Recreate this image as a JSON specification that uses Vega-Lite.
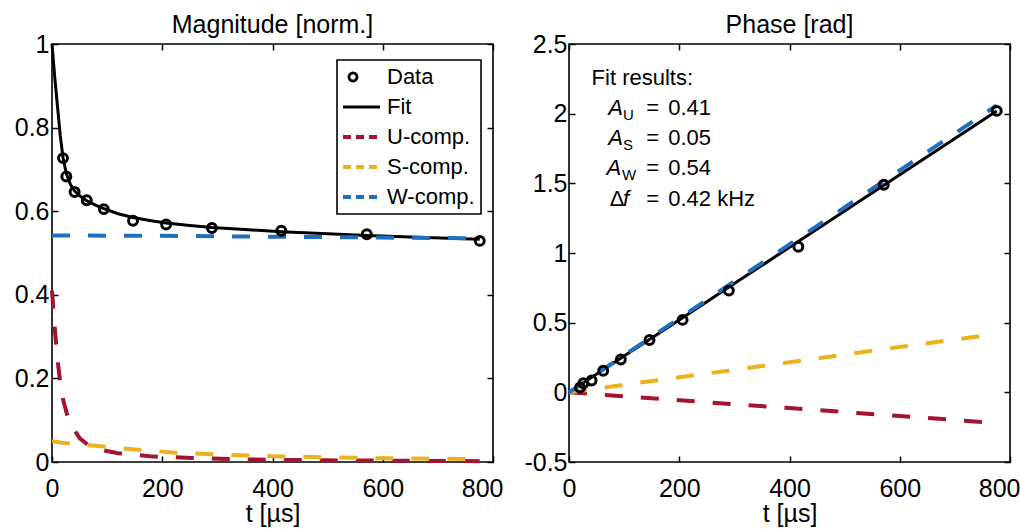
{
  "$schema": "https://vega.github.io/schema/vega-lite/v6.json",
  "padding": {"left": 13, "top": 12, "right": 0, "bottom": 2},
  "background": "white",
  "bounds": "flush",
  "spacing": 76,
  "config": {
    "font": "Liberation Sans",
    "view": {"stroke": "black", "strokeWidth": 1.6},
    "axis": {"labelFont": "Liberation Sans", "labelFontSize": 25, "labelColor": "black", "titleFont": "Liberation Sans", "titleFontSize": 25, "titleFontWeight": "normal", "titleColor": "black", "domain": false, "grid": false, "tickColor": "black", "tickWidth": 1.5},
    "title": {"font": "Liberation Sans", "fontSize": 25, "fontWeight": "normal", "color": "black", "baseline": "alphabetic", "offset": -6}
  },
  "resolve": {"legend": {"color": "independent"}},
  "datasets": {
    "mag": [
      {"series": "Fit", "t": 0, "v": 1.0}, {"series": "Fit", "t": 5, "v": 0.92}, {"series": "Fit", "t": 10, "v": 0.85}, {"series": "Fit", "t": 15, "v": 0.78}, {"series": "Fit", "t": 20, "v": 0.728}, {"series": "Fit", "t": 26, "v": 0.69}, {"series": "Fit", "t": 33, "v": 0.665}, {"series": "Fit", "t": 41, "v": 0.648}, {"series": "Fit", "t": 52, "v": 0.635}, {"series": "Fit", "t": 63, "v": 0.625}, {"series": "Fit", "t": 80, "v": 0.614}, {"series": "Fit", "t": 94, "v": 0.606}, {"series": "Fit", "t": 120, "v": 0.594}, {"series": "Fit", "t": 147, "v": 0.585}, {"series": "Fit", "t": 180, "v": 0.577}, {"series": "Fit", "t": 207, "v": 0.572}, {"series": "Fit", "t": 250, "v": 0.566}, {"series": "Fit", "t": 290, "v": 0.561}, {"series": "Fit", "t": 350, "v": 0.556}, {"series": "Fit", "t": 416, "v": 0.551}, {"series": "Fit", "t": 500, "v": 0.546}, {"series": "Fit", "t": 571, "v": 0.542}, {"series": "Fit", "t": 650, "v": 0.538}, {"series": "Fit", "t": 776, "v": 0.533},
      {"series": "U-comp.", "t": 0, "v": 0.41}, {"series": "U-comp.", "t": 5, "v": 0.32}, {"series": "U-comp.", "t": 10, "v": 0.245}, {"series": "U-comp.", "t": 15, "v": 0.19}, {"series": "U-comp.", "t": 20, "v": 0.15}, {"series": "U-comp.", "t": 27, "v": 0.115}, {"series": "U-comp.", "t": 35, "v": 0.088}, {"series": "U-comp.", "t": 50, "v": 0.057}, {"series": "U-comp.", "t": 66, "v": 0.04}, {"series": "U-comp.", "t": 85, "v": 0.03}, {"series": "U-comp.", "t": 120, "v": 0.021}, {"series": "U-comp.", "t": 178, "v": 0.0136}, {"series": "U-comp.", "t": 252, "v": 0.0096}, {"series": "U-comp.", "t": 350, "v": 0.006}, {"series": "U-comp.", "t": 500, "v": 0.004}, {"series": "U-comp.", "t": 776, "v": 0.002},
      {"series": "S-comp.", "t": 0, "v": 0.05}, {"series": "S-comp.", "t": 18, "v": 0.046}, {"series": "S-comp.", "t": 85, "v": 0.038}, {"series": "S-comp.", "t": 151, "v": 0.03}, {"series": "S-comp.", "t": 218, "v": 0.023}, {"series": "S-comp.", "t": 300, "v": 0.018}, {"series": "S-comp.", "t": 400, "v": 0.014}, {"series": "S-comp.", "t": 500, "v": 0.011}, {"series": "S-comp.", "t": 600, "v": 0.009}, {"series": "S-comp.", "t": 776, "v": 0.007},
      {"series": "W-comp.", "t": 0, "v": 0.542}, {"series": "W-comp.", "t": 200, "v": 0.541}, {"series": "W-comp.", "t": 400, "v": 0.539}, {"series": "W-comp.", "t": 600, "v": 0.537}, {"series": "W-comp.", "t": 776, "v": 0.535}
    ],
    "magPts": [
      {"series": "Data", "t": 20, "v": 0.727}, {"series": "Data", "t": 26, "v": 0.683}, {"series": "Data", "t": 41, "v": 0.646}, {"series": "Data", "t": 63, "v": 0.626}, {"series": "Data", "t": 94, "v": 0.605}, {"series": "Data", "t": 147, "v": 0.577}, {"series": "Data", "t": 207, "v": 0.568}, {"series": "Data", "t": 290, "v": 0.56}, {"series": "Data", "t": 416, "v": 0.553}, {"series": "Data", "t": 571, "v": 0.545}, {"series": "Data", "t": 776, "v": 0.529}
    ],
    "ph": [
      {"series": "Fit", "t": 0, "v": 0}, {"series": "Fit", "t": 100, "v": 0.26}, {"series": "Fit", "t": 200, "v": 0.52}, {"series": "Fit", "t": 300, "v": 0.781}, {"series": "Fit", "t": 400, "v": 1.041}, {"series": "Fit", "t": 500, "v": 1.302}, {"series": "Fit", "t": 600, "v": 1.562}, {"series": "Fit", "t": 700, "v": 1.822}, {"series": "Fit", "t": 776, "v": 2.02},
      {"series": "U-comp.", "t": 0, "v": 0}, {"series": "U-comp.", "t": 200, "v": -0.057}, {"series": "U-comp.", "t": 400, "v": -0.113}, {"series": "U-comp.", "t": 600, "v": -0.17}, {"series": "U-comp.", "t": 776, "v": -0.22},
      {"series": "S-comp.", "t": 0, "v": 0}, {"series": "S-comp.", "t": 200, "v": 0.108}, {"series": "S-comp.", "t": 400, "v": 0.216}, {"series": "S-comp.", "t": 600, "v": 0.325}, {"series": "S-comp.", "t": 776, "v": 0.42},
      {"series": "W-comp.", "t": 0, "v": 0}, {"series": "W-comp.", "t": 200, "v": 0.531}, {"series": "W-comp.", "t": 400, "v": 1.062}, {"series": "W-comp.", "t": 600, "v": 1.593}, {"series": "W-comp.", "t": 776, "v": 2.06}
    ],
    "phPts": [
      {"series": "Data", "t": 20, "v": 0.035}, {"series": "Data", "t": 26, "v": 0.065}, {"series": "Data", "t": 41, "v": 0.085}, {"series": "Data", "t": 62, "v": 0.155}, {"series": "Data", "t": 94, "v": 0.235}, {"series": "Data", "t": 146, "v": 0.375}, {"series": "Data", "t": 206, "v": 0.52}, {"series": "Data", "t": 290, "v": 0.73}, {"series": "Data", "t": 416, "v": 1.045}, {"series": "Data", "t": 571, "v": 1.49}, {"series": "Data", "t": 776, "v": 2.02}
    ]
  },
  "hconcat": [
    {
      "width": 441,
      "height": 418,
      "title": {"text": "Magnitude [norm.]"},
      "layer": [
        {
          "data": {"name": "mag"},
          "transform": [{"filter": "datum.series === 'Fit'"}],
          "mark": {"type": "line", "strokeWidth": 3},
          "encoding": {
            "x": {"field": "t", "type": "quantitative", "scale": {"domain": [0, 800], "nice": false}, "axis": {"orient": "bottom", "values": [0, 200, 400, 600, 800], "tickSize": -6, "labelPadding": 20, "title": "t [µs]", "titlePadding": 0, "labelAlign": {"condition": {"test": "datum.value === 800", "value": "right"}, "value": "center"}, "labelOffset": {"condition": {"test": "datum.value === 800", "value": 10}, "value": 0}}},
            "y": {"field": "v", "type": "quantitative", "scale": {"domain": [0, 1], "nice": false}, "axis": {"orient": "left", "values": [0, 0.2, 0.4, 0.6, 0.8, 1], "tickSize": -6, "labelPadding": 9, "title": null, "labelExpr": "'' + datum.value"}},
            "color": {
              "field": "series", "type": "nominal",
              "scale": {"domain": ["Data", "Fit", "U-comp.", "S-comp.", "W-comp."], "range": ["#000000", "#000000", "#a2142f", "#edb120", "#1f6fbf"]},
              "legend": {
                "orient": "none", "legendX": 285, "legendY": 16, "title": null,
                "strokeColor": "black", "fillColor": "white", "padding": 6,
                "labelFont": "Liberation Sans", "labelFontSize": 22, "labelColor": "black",
                "labelOffset": 22, "rowPadding": 8, "symbolSize": 1369, "symbolType": "stroke", "symbolStrokeWidth": 3,
                "encode": {
                  "legend": {"update": {"strokeWidth": {"value": 1.6}}},
                  "symbols": {"update": {
                    "shape": {"signal": "datum.value === 'Data' ? 'circle' : 'stroke'"},
                    "size": {"signal": "datum.value === 'Data' ? 64 : 1369"},
                    "strokeDash": {"signal": "(datum.value === 'Data' || datum.value === 'Fit') ? [1, 0] : [8, 5]"},
                    "strokeWidth": {"signal": "datum.value === 'Data' ? 2.8 : (datum.value === 'Fit' ? 3 : 4)"},
                    "fill": {"value": "transparent"},
                    "x": {"signal": "datum.value === 'Data' ? 10 : 18.5"}
                  }}
                }
              }
            }
          }
        },
        {
          "data": {"name": "mag"},
          "transform": [{"filter": "datum.series !== 'Fit'"}],
          "mark": {"type": "line", "strokeWidth": 4, "strokeDash": [18, 18]},
          "encoding": {
            "x": {"field": "t", "type": "quantitative", "axis": {"orient": "top", "values": [0, 200, 400, 600, 800], "tickSize": -6, "labels": false, "title": null}},
            "y": {"field": "v", "type": "quantitative", "axis": {"orient": "right", "values": [0, 0.2, 0.4, 0.6, 0.8, 1], "tickSize": -6, "labels": false, "title": null}},
            "color": {"field": "series", "type": "nominal"}
          }
        },
        {
          "data": {"name": "magPts"},
          "mark": {"type": "point", "shape": "circle", "filled": false, "size": 80, "strokeWidth": 3, "opacity": 1},
          "encoding": {
            "x": {"field": "t", "type": "quantitative", "axis": null},
            "y": {"field": "v", "type": "quantitative", "axis": null},
            "color": {"field": "series", "type": "nominal"}
          }
        }
      ]
    },
    {
      "width": 441,
      "height": 418,
      "title": {"text": "Phase [rad]"},
      "layer": [
        {
          "data": {"name": "ph"},
          "transform": [{"filter": "datum.series === 'Fit'"}],
          "mark": {"type": "line", "strokeWidth": 3},
          "encoding": {
            "x": {"field": "t", "type": "quantitative", "scale": {"domain": [0, 800], "nice": false}, "axis": {"orient": "bottom", "values": [0, 200, 400, 600, 800], "tickSize": -6, "labelPadding": 20, "title": "t [µs]", "titlePadding": 0, "labelAlign": {"condition": {"test": "datum.value === 800", "value": "right"}, "value": "center"}, "labelOffset": {"condition": {"test": "datum.value === 800", "value": 10}, "value": 0}}},
            "y": {"field": "v", "type": "quantitative", "scale": {"domain": [-0.5, 2.5], "nice": false}, "axis": {"orient": "left", "values": [-0.5, 0, 0.5, 1, 1.5, 2, 2.5], "tickSize": -6, "labelPadding": 8, "title": null, "labelExpr": "'' + datum.value"}},
            "color": {"field": "series", "type": "nominal", "legend": null}
          }
        },
        {
          "data": {"name": "ph"},
          "transform": [{"filter": "datum.series !== 'Fit'"}],
          "mark": {"type": "line", "strokeWidth": 4, "strokeDash": [18, 18]},
          "encoding": {
            "x": {"field": "t", "type": "quantitative", "axis": {"orient": "top", "values": [0, 200, 400, 600, 800], "tickSize": -6, "labels": false, "title": null}},
            "y": {"field": "v", "type": "quantitative", "axis": {"orient": "right", "values": [-0.5, 0, 0.5, 1, 1.5, 2, 2.5], "tickSize": -6, "labels": false, "title": null}},
            "color": {"field": "series", "type": "nominal", "legend": null}
          }
        },
        {
          "data": {"name": "phPts"},
          "mark": {"type": "point", "shape": "circle", "filled": false, "size": 80, "strokeWidth": 3, "opacity": 1},
          "encoding": {
            "x": {"field": "t", "type": "quantitative", "axis": null},
            "y": {"field": "v", "type": "quantitative", "axis": null},
            "color": {"field": "series", "type": "nominal", "legend": null}
          }
        },
        {
          "data": {"values": [
            {"t": 41, "v": 2.208, "label": "Fit results:"},
            {"t": 140, "v": 1.993, "label": "="}, {"t": 180, "v": 1.993, "label": "0.41"},
            {"t": 140, "v": 1.774, "label": "="}, {"t": 180, "v": 1.774, "label": "0.05"},
            {"t": 140, "v": 1.562, "label": "="}, {"t": 180, "v": 1.562, "label": "0.54"},
            {"t": 74, "v": 1.336, "label": "Δ"},
            {"t": 140, "v": 1.336, "label": "="}, {"t": 180, "v": 1.336, "label": "0.42 kHz"}
          ]},
          "mark": {"type": "text", "align": "left", "baseline": "alphabetic", "font": "Liberation Sans", "fontSize": 22, "color": "black"},
          "encoding": {
            "x": {"field": "t", "type": "quantitative", "axis": null},
            "y": {"field": "v", "type": "quantitative", "axis": null},
            "text": {"field": "label"}
          }
        },
        {
          "data": {"values": [
            {"t": 71, "v": 1.993, "label": "A"},
            {"t": 71, "v": 1.774, "label": "A"},
            {"t": 68, "v": 1.562, "label": "A"},
            {"t": 98, "v": 1.336, "label": "f"}
          ]},
          "mark": {"type": "text", "align": "left", "baseline": "alphabetic", "font": "Liberation Sans", "fontSize": 22, "fontStyle": "italic", "color": "black"},
          "encoding": {
            "x": {"field": "t", "type": "quantitative", "axis": null},
            "y": {"field": "v", "type": "quantitative", "axis": null},
            "text": {"field": "label"}
          }
        },
        {
          "data": {"values": [
            {"t": 98, "v": 1.957, "label": "U"},
            {"t": 98, "v": 1.742, "label": "S"},
            {"t": 96, "v": 1.527, "label": "W"}
          ]},
          "mark": {"type": "text", "align": "left", "baseline": "alphabetic", "font": "Liberation Sans", "fontSize": 15, "color": "black"},
          "encoding": {
            "x": {"field": "t", "type": "quantitative", "axis": null},
            "y": {"field": "v", "type": "quantitative", "axis": null},
            "text": {"field": "label"}
          }
        }
      ]
    }
  ]
}
